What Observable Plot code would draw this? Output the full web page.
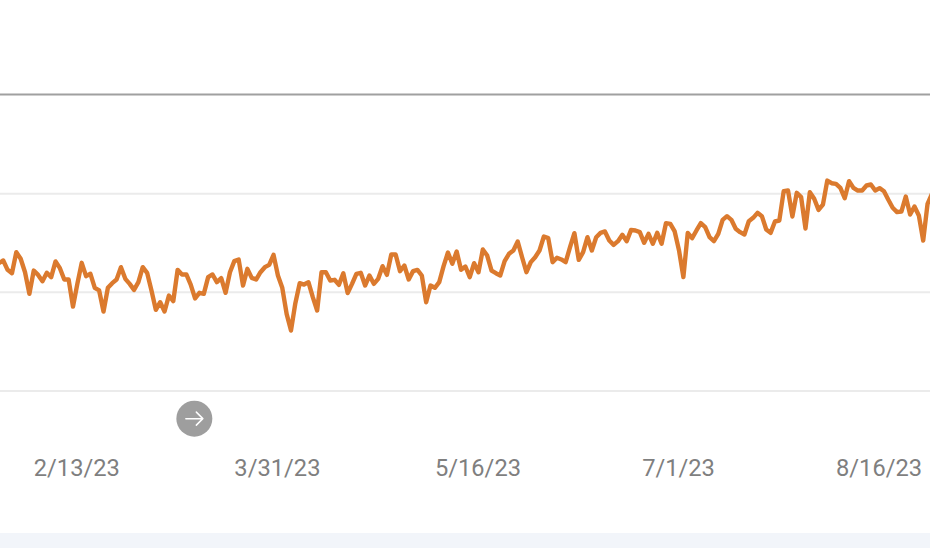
<!DOCTYPE html>
<html>
<head>
<meta charset="utf-8">
<script src="https://cdn.jsdelivr.net/npm/d3@7"></script>
<script src="https://cdn.jsdelivr.net/npm/@observablehq/plot@0.6"></script>
<style>
html,body{margin:0;padding:0;background:#fff;overflow:hidden}
svg{display:block}
#band{height:15px;background:#f2f5fa}
</style>
</head>
<body>
<div id="chart"></div>
<div id="band"></div>
<script>
const firstDay = new Date(Date.UTC(2023, 0, 26));
const dailyValues = [
130,132.8,123.3,119.9,141.2,134.5,120.9,99,122.6,118.2,111.8,120.3,115.9,131.8,125,113.5,113.5,86.1,109.1,
130.4,116.9,119.3,105.1,102.4,81.1,105.1,109.8,113.5,126,114.2,109.1,103,110.8,126,120.3,102.4,82.8,90.5,81.1,
97.3,91.6,123.3,118.6,118.6,108.4,94.3,100,99,115.9,118.6,110.8,114.9,100,120.9,132.1,133.8,
107.4,124.3,115.2,113.5,120.9,126,128.4,138.5,117.6,105.1,78.7,61.8,89.5,109.8,108.4,110.8,95.6,82.1,120.9,120.9,
112.5,113.2,108.1,119.9,99.7,109.1,119.3,120.3,107.4,117.6,109.1,114.2,127,118.2,138.9,138.9,122,127.7,113.5,122,
123.3,117.6,90.5,107.4,105.1,110.8,127,140.9,129.4,141.9,123.3,126.7,115.9,
130.1,120.9,143.9,137.8,122.6,119.9,117.6,132.1,139.5,142.9,152,136.1,120.9,131.1,136.1,142.9,157.1,155.4,131.1,135.5,
133.8,131.1,146.3,160.5,133.4,141.2,156.4,142.9,156.4,160.8,162.2,153,148.6,152.4,158.8,152.4,163.8,163.2,161.5,150.7,
159.8,149.7,160.8,149.7,170.6,169.9,162.2,142.9,115.9,160.8,155.4,163.2,170.6,166.6,156.4,152.4,159.8,174,177.7,174,
164.9,161.5,159.1,172.6,176,181.1,177.7,164.2,160.8,172.3,173.3,203,203.7,177.4,201.4,197,165.2,202,195.3,184.1,
189.5,213.8,211.1,210.5,206.4,195.9,213.2,206.4,203.7,203.7,208.8,209.8,203.7,206.1,203,194.3,186.2,181.8,182.4,197.6,
179.4,187.5,178.4,153,190.2,200.3
];
const series = dailyValues.map((value, i) => ({date: d3.utcDay.offset(firstDay, i), value}));
const tickDates = ["2023-02-13", "2023-03-31", "2023-05-16", "2023-07-01", "2023-08-16"].map(d => new Date(d + "T00:00:00Z"));
const gridValues = [0, 100, 200];
const topValue = [300];
const lineColor = "#db7a2e";
const arrowAt = [{date: new Date("2023-03-11T20:00:00Z"), value: -27.5}];
const arrowShape = {
  draw(ctx, l) {
    ctx.moveTo(0, 0); ctx.lineTo(0, -l);
    ctx.moveTo(-6.5, -l + 6.5); ctx.lineTo(0, -l); ctx.lineTo(6.5, -l + 6.5);
  }
};
const fmt = d3.utcFormat("%-m/%-d/%y");
const chart = Plot.plot({
  width: 930,
  height: 533,
  marginTop: 0, marginRight: 0, marginLeft: 0, marginBottom: 142,
  style: {fontFamily: "Roboto", background: "#fff", overflow: "hidden"},
  x: {type: "utc", domain: [new Date("2023-01-26T09:00:00Z"), new Date("2023-08-27T16:12:00Z")]},
  y: {domain: [0, 396.3], axis: null},
  marks: [
    Plot.ruleY(gridValues, {stroke: "#ebebeb", strokeWidth: 2, dy: -0.5}),
    Plot.ruleY(topValue, {stroke: "#a0a0a0", strokeWidth: 2, dy: -1}),
    Plot.axisX({
      ticks: tickDates, tickFormat: fmt, tickSize: 0, tickPadding: 68, dx: -0.5,
      fontSize: 23.7, color: "#7f7f7f", label: null, textStroke: "none"
    }),
    Plot.line(series, {x: "date", y: "value", stroke: lineColor, strokeWidth: 4.4, strokeLinejoin: "round", strokeLinecap: "round"}),
    Plot.dot(arrowAt, {x: "date", y: "value", r: 18, fill: "#9e9e9e"}),
    Plot.vector(arrowAt, {x: "date", y: "value", length: 17, rotate: 90, shape: arrowShape, anchor: "middle", stroke: "#fff", strokeWidth: 1.5})
  ]
});
document.getElementById("chart").appendChild(chart);
</script>
</body>
</html>
